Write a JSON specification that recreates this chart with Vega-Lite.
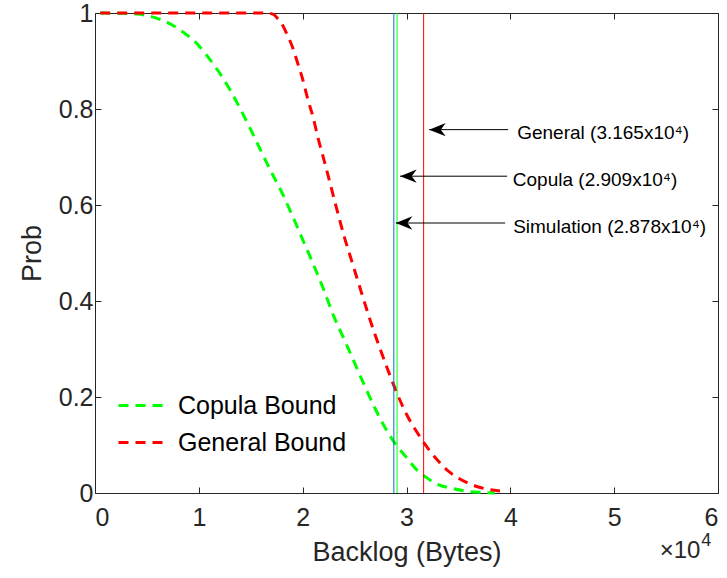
{
  "$schema": "https://vega.github.io/schema/vega-lite/v6.json",
  "width": 623,
  "height": 480,
  "autosize": {"type": "none"},
  "padding": {"left": 95, "top": 13, "right": 9, "bottom": 85},
  "background": "white",
  "config": {
    "font": "Liberation Sans",
    "view": {"stroke": null},
    "axis": {
      "grid": false,
      "domainColor": "#262626",
      "tickColor": "#262626",
      "labelColor": "#262626",
      "titleColor": "#262626",
      "domainWidth": 1,
      "tickWidth": 1,
      "tickSize": -6,
      "labelFont": "Liberation Sans",
      "titleFont": "Liberation Sans",
      "labelFontSize": 25,
      "titleFontSize": 27,
      "titleFontWeight": "normal"
    },
    "legend": {
      "orient": "none",
      "legendX": 36,
      "legendY": 380,
      "padding": 0,
      "labelFont": "Liberation Sans",
      "labelFontSize": 25,
      "labelColor": "#000000",
      "labelLimit": 400,
      "symbolType": "M -2.5 0 L 2.5 0",
      "symbolSize": 400,
      "symbolStrokeWidth": 3,
      "symbolDash": [10, 7],
      "labelOffset": 22,
      "rowPadding": 11,
      "title": null
    }
  },
  "datasets": {
    "curves": [
      {"series": "Copula Bound", "x": 0.05, "y": 1.0},
      {"series": "Copula Bound", "x": 0.4, "y": 0.998},
      {"series": "Copula Bound", "x": 0.55, "y": 0.992},
      {"series": "Copula Bound", "x": 0.7, "y": 0.98},
      {"series": "Copula Bound", "x": 0.85, "y": 0.96},
      {"series": "Copula Bound", "x": 1.0, "y": 0.932},
      {"series": "Copula Bound", "x": 1.1, "y": 0.905},
      {"series": "Copula Bound", "x": 1.2, "y": 0.875},
      {"series": "Copula Bound", "x": 1.3, "y": 0.84},
      {"series": "Copula Bound", "x": 1.4, "y": 0.8},
      {"series": "Copula Bound", "x": 1.5, "y": 0.757},
      {"series": "Copula Bound", "x": 1.6, "y": 0.712},
      {"series": "Copula Bound", "x": 1.7, "y": 0.668},
      {"series": "Copula Bound", "x": 1.8, "y": 0.626},
      {"series": "Copula Bound", "x": 1.9, "y": 0.578},
      {"series": "Copula Bound", "x": 2.0, "y": 0.528},
      {"series": "Copula Bound", "x": 2.1, "y": 0.478},
      {"series": "Copula Bound", "x": 2.2, "y": 0.425},
      {"series": "Copula Bound", "x": 2.3, "y": 0.368},
      {"series": "Copula Bound", "x": 2.4, "y": 0.32},
      {"series": "Copula Bound", "x": 2.5, "y": 0.271},
      {"series": "Copula Bound", "x": 2.6, "y": 0.222},
      {"series": "Copula Bound", "x": 2.7, "y": 0.175},
      {"series": "Copula Bound", "x": 2.8, "y": 0.134},
      {"series": "Copula Bound", "x": 2.9, "y": 0.1},
      {"series": "Copula Bound", "x": 3.0, "y": 0.074},
      {"series": "Copula Bound", "x": 3.1, "y": 0.048},
      {"series": "Copula Bound", "x": 3.2, "y": 0.031},
      {"series": "Copula Bound", "x": 3.3, "y": 0.018},
      {"series": "Copula Bound", "x": 3.45, "y": 0.009},
      {"series": "Copula Bound", "x": 3.6, "y": 0.003},
      {"series": "Copula Bound", "x": 3.75, "y": 0.001},
      {"series": "Copula Bound", "x": 3.85, "y": 0.0},
      {"series": "General Bound", "x": 0.05, "y": 1.0},
      {"series": "General Bound", "x": 1.65, "y": 1.0},
      {"series": "General Bound", "x": 1.72, "y": 0.997},
      {"series": "General Bound", "x": 1.76, "y": 0.988},
      {"series": "General Bound", "x": 1.8, "y": 0.977},
      {"series": "General Bound", "x": 1.85, "y": 0.955},
      {"series": "General Bound", "x": 1.9, "y": 0.93},
      {"series": "General Bound", "x": 1.95, "y": 0.897},
      {"series": "General Bound", "x": 2.0, "y": 0.862},
      {"series": "General Bound", "x": 2.05, "y": 0.82},
      {"series": "General Bound", "x": 2.1, "y": 0.783},
      {"series": "General Bound", "x": 2.15, "y": 0.738},
      {"series": "General Bound", "x": 2.2, "y": 0.698},
      {"series": "General Bound", "x": 2.25, "y": 0.657},
      {"series": "General Bound", "x": 2.3, "y": 0.615},
      {"series": "General Bound", "x": 2.35, "y": 0.574},
      {"series": "General Bound", "x": 2.4, "y": 0.534},
      {"series": "General Bound", "x": 2.45, "y": 0.499},
      {"series": "General Bound", "x": 2.5, "y": 0.464},
      {"series": "General Bound", "x": 2.55, "y": 0.429},
      {"series": "General Bound", "x": 2.6, "y": 0.394},
      {"series": "General Bound", "x": 2.65, "y": 0.36},
      {"series": "General Bound", "x": 2.7, "y": 0.328},
      {"series": "General Bound", "x": 2.75, "y": 0.298},
      {"series": "General Bound", "x": 2.8, "y": 0.268},
      {"series": "General Bound", "x": 2.85, "y": 0.24},
      {"series": "General Bound", "x": 2.9, "y": 0.212},
      {"series": "General Bound", "x": 2.95, "y": 0.187},
      {"series": "General Bound", "x": 3.0, "y": 0.164},
      {"series": "General Bound", "x": 3.1, "y": 0.127},
      {"series": "General Bound", "x": 3.2, "y": 0.095},
      {"series": "General Bound", "x": 3.3, "y": 0.068},
      {"series": "General Bound", "x": 3.4, "y": 0.046},
      {"series": "General Bound", "x": 3.5, "y": 0.031},
      {"series": "General Bound", "x": 3.6, "y": 0.02},
      {"series": "General Bound", "x": 3.7, "y": 0.012},
      {"series": "General Bound", "x": 3.8, "y": 0.007},
      {"series": "General Bound", "x": 3.9, "y": 0.004}
    ],
    "markers": [
      {"name": "Simulation", "x": 2.878},
      {"name": "Copula", "x": 2.909},
      {"name": "General", "x": 3.165}
    ],
    "notes": [
      {"label": "General (3.165x10⁴)", "tip": 3.218, "tail": 3.979, "ay": 0.757, "tx": 4.066, "ty": 0.75},
      {"label": "Copula (2.909x10⁴)", "tip": 2.938, "tail": 3.969, "ay": 0.66, "tx": 4.024, "ty": 0.653},
      {"label": "Simulation (2.878x10⁴)", "tip": 2.897, "tail": 3.95, "ay": 0.5625, "tx": 4.027, "ty": 0.555}
    ],
    "exponent": [
      {"base": "×10", "power": "4", "x": 5.83, "y": -0.12, "py": -0.099}
    ]
  },
  "layer": [
    {
      "data": {"name": "curves"},
      "mark": {"type": "line", "strokeWidth": 3, "strokeDash": [10, 7], "interpolate": "monotone"},
      "encoding": {
        "x": {
          "field": "x", "type": "quantitative",
          "scale": {"domain": [0, 6], "nice": false, "zero": false},
          "axis": {"orient": "bottom", "values": [0, 1, 2, 3, 4, 5, 6], "title": "Backlog (Bytes)", "labelPadding": 18, "titlePadding": 9}
        },
        "y": {
          "field": "y", "type": "quantitative",
          "scale": {"domain": [0, 1], "nice": false},
          "axis": {"orient": "left", "values": [0, 0.2, 0.4, 0.6, 0.8, 1], "format": "~g", "title": "Prob", "labelPadding": 8, "titlePadding": 12}
        },
        "color": {
          "field": "series", "type": "nominal",
          "scale": {"domain": ["Copula Bound", "General Bound"], "range": ["#00ff00", "#ff0000"]}
        }
      }
    },
    {
      "data": {"name": "markers"},
      "mark": {"type": "rule", "strokeWidth": 1},
      "encoding": {
        "x": {"field": "x", "type": "quantitative", "axis": {"orient": "top", "values": [0, 1, 2, 3, 4, 5, 6], "labels": false, "title": null}},
        "stroke": {
          "field": "name", "type": "nominal",
          "scale": {"domain": ["Simulation", "Copula", "General"], "range": ["#0072bd", "#00ff00", "#ff0000"]},
          "legend": null
        }
      }
    },
    {
      "data": {"name": "notes"},
      "mark": {"type": "rule", "color": "#000000", "strokeWidth": 1},
      "encoding": {
        "x": {"field": "tip", "type": "quantitative", "axis": null},
        "x2": {"field": "tail"},
        "y": {"field": "ay", "type": "quantitative", "axis": {"orient": "right", "values": [0, 0.2, 0.4, 0.6, 0.8, 1], "labels": false, "title": null}}
      }
    },
    {
      "data": {"name": "notes"},
      "mark": {"type": "point", "shape": "M 0 0 L 1 -0.4 L 0.7 0 L 1 0.4 Z", "filled": true, "color": "#000000", "opacity": 1, "size": 1100},
      "encoding": {
        "x": {"field": "tip", "type": "quantitative", "axis": null},
        "y": {"field": "ay", "type": "quantitative", "axis": null}
      }
    },
    {
      "data": {"name": "notes"},
      "mark": {"type": "text", "align": "left", "baseline": "middle", "fontSize": 19, "font": "Liberation Sans", "color": "#000000"},
      "encoding": {
        "x": {"field": "tx", "type": "quantitative", "axis": null},
        "y": {"field": "ty", "type": "quantitative", "axis": null},
        "text": {"field": "label"}
      }
    },
    {
      "data": {"name": "exponent"},
      "mark": {"type": "text", "align": "right", "baseline": "middle", "fontSize": 24, "font": "Liberation Sans", "color": "#262626"},
      "encoding": {
        "x": {"field": "x", "type": "quantitative", "axis": null},
        "y": {"field": "y", "type": "quantitative", "axis": null},
        "text": {"field": "base"}
      }
    },
    {
      "data": {"name": "exponent"},
      "mark": {"type": "text", "align": "left", "baseline": "middle", "fontSize": 18, "font": "Liberation Sans", "color": "#262626", "dx": 1},
      "encoding": {
        "x": {"field": "x", "type": "quantitative", "axis": null},
        "y": {"field": "py", "type": "quantitative", "axis": null},
        "text": {"field": "power"}
      }
    }
  ],
  "resolve": {"axis": {"x": "independent", "y": "independent"}}
}
